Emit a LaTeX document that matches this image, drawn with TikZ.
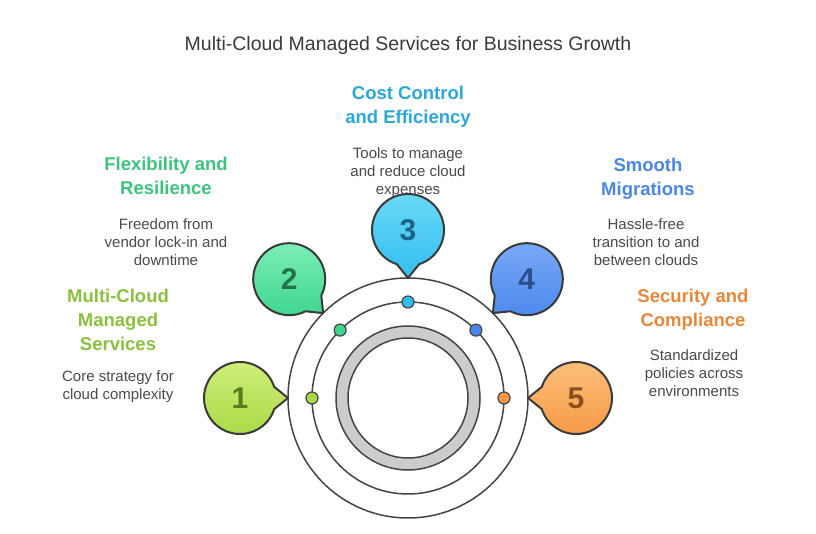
\documentclass[tikz,border=0pt]{standalone}
\usepackage{fontspec}
\setmainfont{Liberation Sans}
\usepackage{tikz}
\usetikzlibrary{calc, positioning}

\definecolor{titlegray}{HTML}{3A3A3A}
\definecolor{descgray}{HTML}{4A4A4A}
\definecolor{linegray}{HTML}{444444}
\definecolor{ringfill}{HTML}{CCCCCC}
\definecolor{headA}{HTML}{8CBF3F}
\definecolor{headB}{HTML}{3CC37E}
\definecolor{headC}{HTML}{2BA8D8}
\definecolor{headD}{HTML}{4B86E0}
\definecolor{headE}{HTML}{E6873A}
\definecolor{topA}{HTML}{D2EE7C}
\definecolor{botA}{HTML}{A8DA45}
\definecolor{topB}{HTML}{80F0BA}
\definecolor{botB}{HTML}{3FD68E}
\definecolor{topC}{HTML}{6CDAF8}
\definecolor{botC}{HTML}{33BEF0}
\definecolor{topD}{HTML}{7CAAF8}
\definecolor{botD}{HTML}{4A87EC}
\definecolor{topE}{HTML}{FDC07C}
\definecolor{botE}{HTML}{F69844}
\definecolor{numA}{HTML}{5B7A1E}
\definecolor{numB}{HTML}{23744E}
\definecolor{numC}{HTML}{1B6487}
\definecolor{numD}{HTML}{2C4F8C}
\definecolor{numE}{HTML}{8A4F1C}

\begin{document}
\begin{tikzpicture}[
    x=1pt, y=1pt,
    ring/.style={draw=linegray, line width=1.5pt},
    bubble/.style={draw=titlegray, line width=2pt, line join=round},
    num/.style={font=\fontsize{30}{30}\selectfont\bfseries},
    dot/.style={circle, draw=linegray, line width=1.2pt, minimum size=12pt, inner sep=0pt},
    head/.style={align=center, font=\fontsize{18.5}{24}\selectfont\bfseries},
    desc/.style={align=center, text=descgray, font=\fontsize{15}{18}\selectfont}
]
\useasboundingbox (0,0) rectangle (816,534);

\coordinate (C) at (408,136);

% Title
\node[text=titlegray, font=\fontsize{19.5}{22}\selectfont] (title) at (408,489)
    {Multi-Cloud Managed Services for Business Growth};

% Rings
\draw[ring] (C) circle[radius=120];
\draw[ring] (C) circle[radius=96];
\draw[ring, fill=ringfill, even odd rule] (C) circle[radius=72] (C) circle[radius=60];

% Bubbles
\draw[bubble, top color=topA, bottom color=botA]
    ($(C)+(180:168)+(-18:36)$) -- ($(C)+(180:120)$) -- ($(C)+(180:168)+(18:36)$)
    arc[start angle=18, end angle=342, radius=36] -- cycle;
\draw[bubble, top color=topB, bottom color=botB]
    ($(C)+(135:168)+(297:36)$) -- ($(C)+(135:120)$) -- ($(C)+(135:168)+(333:36)$)
    arc[start angle=-27, end angle=297, radius=36] -- cycle;
\draw[bubble, top color=topC, bottom color=botC]
    ($(C)+(90:168)+(252:36)$) -- ($(C)+(90:120)$) -- ($(C)+(90:168)+(288:36)$)
    arc[start angle=-72, end angle=252, radius=36] -- cycle;
\draw[bubble, top color=topD, bottom color=botD]
    ($(C)+(45:168)+(207:36)$) -- ($(C)+(45:120)$) -- ($(C)+(45:168)+(243:36)$)
    arc[start angle=243, end angle=567, radius=36] -- cycle;
\draw[bubble, top color=topE, bottom color=botE]
    ($(C)+(0:168)+(162:36)$) -- ($(C)+(0:120)$) -- ($(C)+(0:168)+(198:36)$)
    arc[start angle=198, end angle=522, radius=36] -- cycle;

% Numbers
\node[num, text=numA] (n1) at ($(C)+(180:168)$) {1};
\node[num, text=numB] (n2) at ($(C)+(135:168)$) {2};
\node[num, text=numC] (n3) at ($(C)+(90:168)$) {3};
\node[num, text=numD] (n4) at ($(C)+(45:168)$) {4};
\node[num, text=numE] (n5) at ($(C)+(0:168)$) {5};

% Dots
\node[dot, fill=botA] (d1) at ($(C)+(180:96)$) {};
\node[dot, fill=botB] (d2) at ($(C)+(135:96)$) {};
\node[dot, fill=botC] (d3) at ($(C)+(90:96)$) {};
\node[dot, fill=botD] (d4) at ($(C)+(45:96)$) {};
\node[dot, fill=botE] (d5) at ($(C)+(0:96)$) {};

% Labels
\node[head, text=headA] (multi) at (118,214) {Multi-Cloud\\Managed\\Services};
\node[desc] (multidesc) at (118,147.5) {Core strategy for\\cloud complexity};

\node[head, text=headB] (flex) at (166,358) {Flexibility and\\Resilience};
\node[desc] (flexdesc) at (166,292) {Freedom from\\vendor lock-in and\\downtime};

\node[head, text=headC] (cost) at (408,427) {Cost Control\\and Efficiency};
\node[desc] (costdesc) at (408,361) {Tools to manage\\and reduce cloud\\expenses};

\node[head, text=headD] (smooth) at (648,355) {Smooth\\Migrations};
\node[desc] (smoothdesc) at (646,292) {Hassle-free\\transition to and\\between clouds};

\node[head, text=headE] (security) at (693,224) {Security and\\Compliance};
\node[desc] (securitydesc) at (694,161) {Standardized\\policies across\\environments};

\end{tikzpicture}
\end{document}
